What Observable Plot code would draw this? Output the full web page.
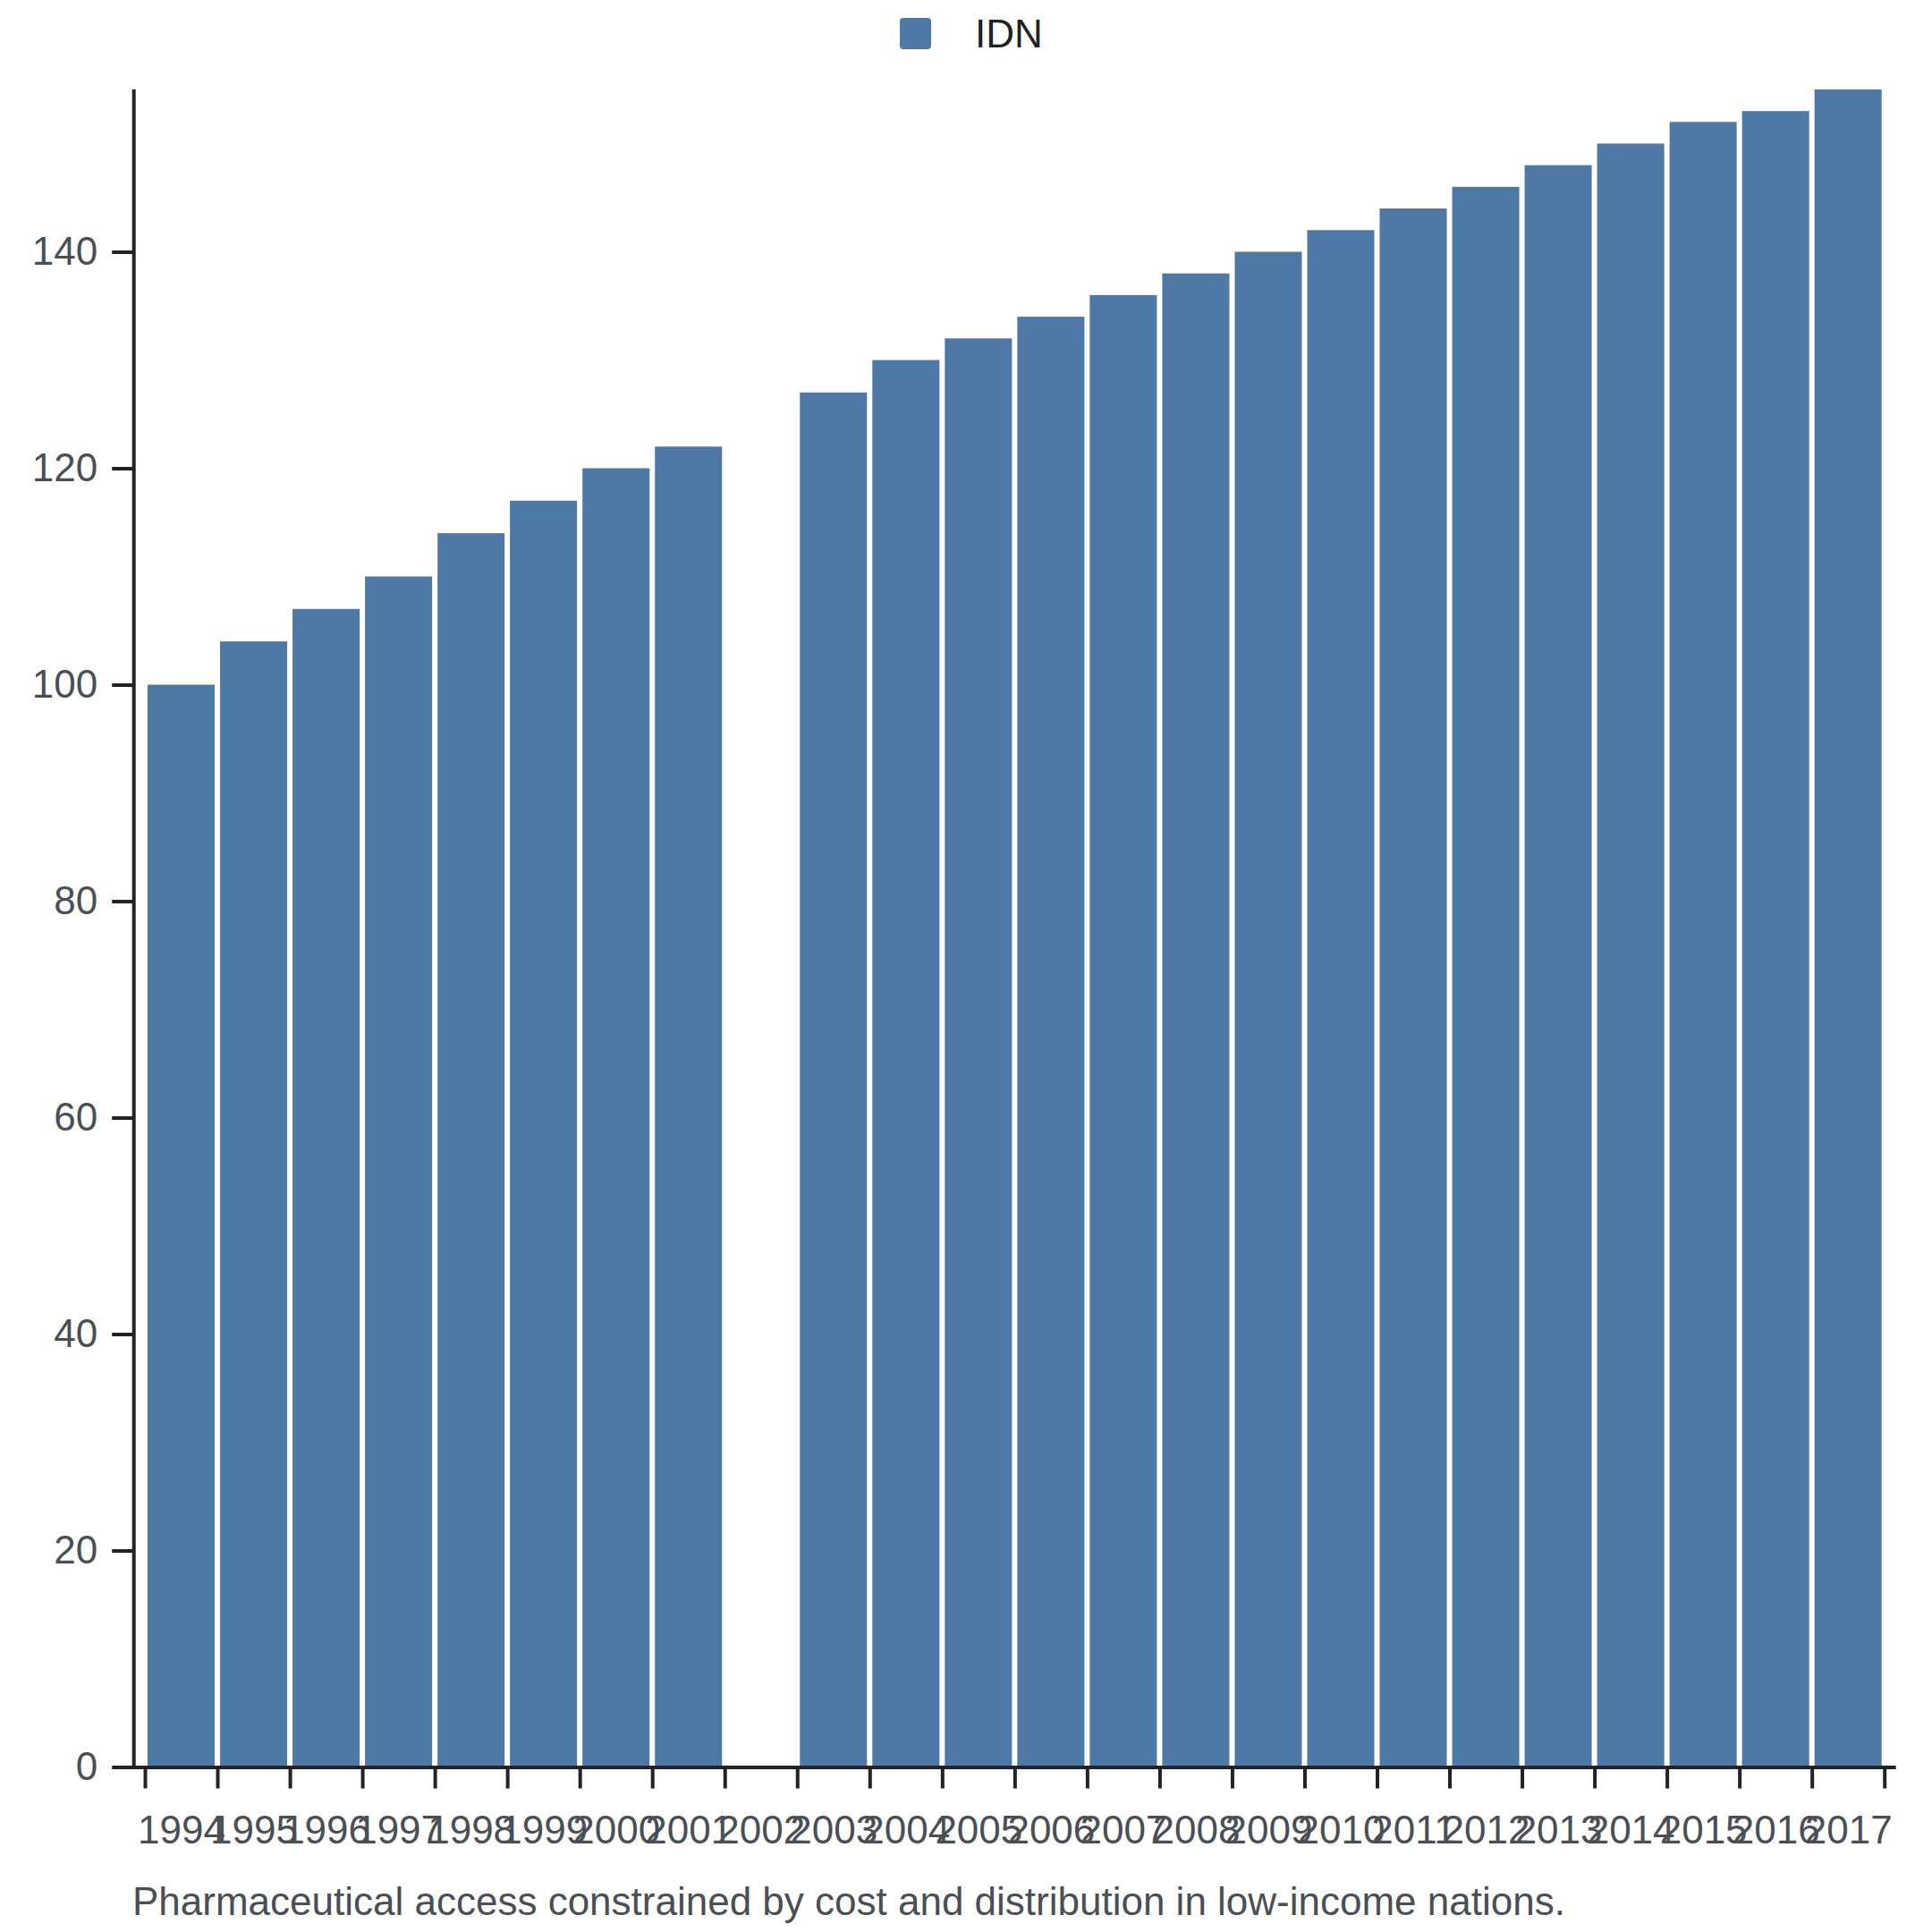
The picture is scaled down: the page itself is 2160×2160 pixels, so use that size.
<!DOCTYPE html>
<html>
<head>
<meta charset="utf-8">
<script src="https://cdn.jsdelivr.net/npm/d3@7"></script>
<script src="https://cdn.jsdelivr.net/npm/@observablehq/plot@0.6"></script>
<style>
  html, body { margin: 0; padding: 0; background: #ffffff; }
  #wrap { position: relative; width: 2160px; height: 2160px; overflow: hidden; font-family: "Liberation Sans", Arial, sans-serif; }
  #legend { position: absolute; left: 1006px; top: 16px; height: 44px; line-height: 44px; font-size: 44px; color: #222222; white-space: nowrap; }
  #legend .sw { position: absolute; left: 0; top: 4px; width: 35px; height: 35px; border-radius: 4px; background: #4e79a7; }
  #legend .lb { position: absolute; left: 84px; top: 0; }
  #caption { position: absolute; left: 148px; top: 2104px; font-size: 44px; line-height: 44px; color: #4a4f55; white-space: nowrap; }
  #chart { position: absolute; left: 0; top: 0; }
</style>
</head>
<body>
<div id="wrap">
  <div id="chart"></div>
  <div id="legend"><div class="sw"></div><div class="lb"></div></div>
  <div id="caption"></div>
</div>
<script>
const seriesName = "IDN";
const years = [1994,1995,1996,1997,1998,1999,2000,2001,2002,2003,2004,2005,2006,2007,2008,2009,2010,2011,2012,2013,2014,2015,2016,2017];
const values = [100,104,107,110,114,117,120,122,null,127,130,132,134,136,138,140,142,144,146,148,150,152,153,155];
const yTicks = [0,20,40,60,80,100,120,140];
const yDomain = [0,155];
const captionText = "Pharmaceutical access constrained by cost and distribution in low-income nations.";

const data = years.map((year, i) => ({year, value: values[i]}));
const bars = data.filter(d => d.value != null);
const boundaryTicks = years.concat([years[years.length - 1] + 1]);
const labelTicks = years.map(y => y + 0.5);

const axisColor = "#202328";
const textColor = "#4a4f55";

const chart = Plot.plot({
  width: 2160,
  height: 2160,
  marginTop: 100,
  marginBottom: 184.5,
  marginLeft: 162,
  marginRight: 53.3,
  style: {fontFamily: "'Liberation Sans', Arial, sans-serif", fontSize: "44px", background: "transparent", color: textColor},
  x: {type: "linear", domain: [years[0], years[years.length - 1] + 1], axis: null},
  y: {domain: yDomain, axis: null},
  marks: [
    Plot.rectY(bars, {x1: "year", x2: d => d.year + 1, y: "value", fill: "#4e79a7", insetLeft: 3, insetRight: 3}),
    Plot.ruleX([years[0]], {dx: -12.8, stroke: axisColor, strokeWidth: 4}),
    Plot.ruleY([0], {stroke: axisColor, strokeWidth: 4, insetLeft: -13, insetRight: -13}),
    Plot.axisY({ticks: yTicks, anchor: "left", dx: -12.8, tickSize: 24, tickPadding: 16.5, stroke: axisColor, strokeWidth: 4, fill: textColor, tickFormat: d => String(d), label: null}),
    Plot.axisX({ticks: boundaryTicks, anchor: "bottom", tickSize: 24, stroke: axisColor, strokeWidth: 4, tickFormat: () => "", label: null}),
    Plot.axisX({ticks: labelTicks, anchor: "bottom", tickSize: 0, tickPadding: 53.5, fill: textColor, tickFormat: d => String(d - 0.5), label: null})
  ]
});
document.getElementById("chart").appendChild(chart);
document.querySelector("#legend .lb").textContent = seriesName;
document.getElementById("caption").textContent = captionText;
</script>
</body>
</html>
